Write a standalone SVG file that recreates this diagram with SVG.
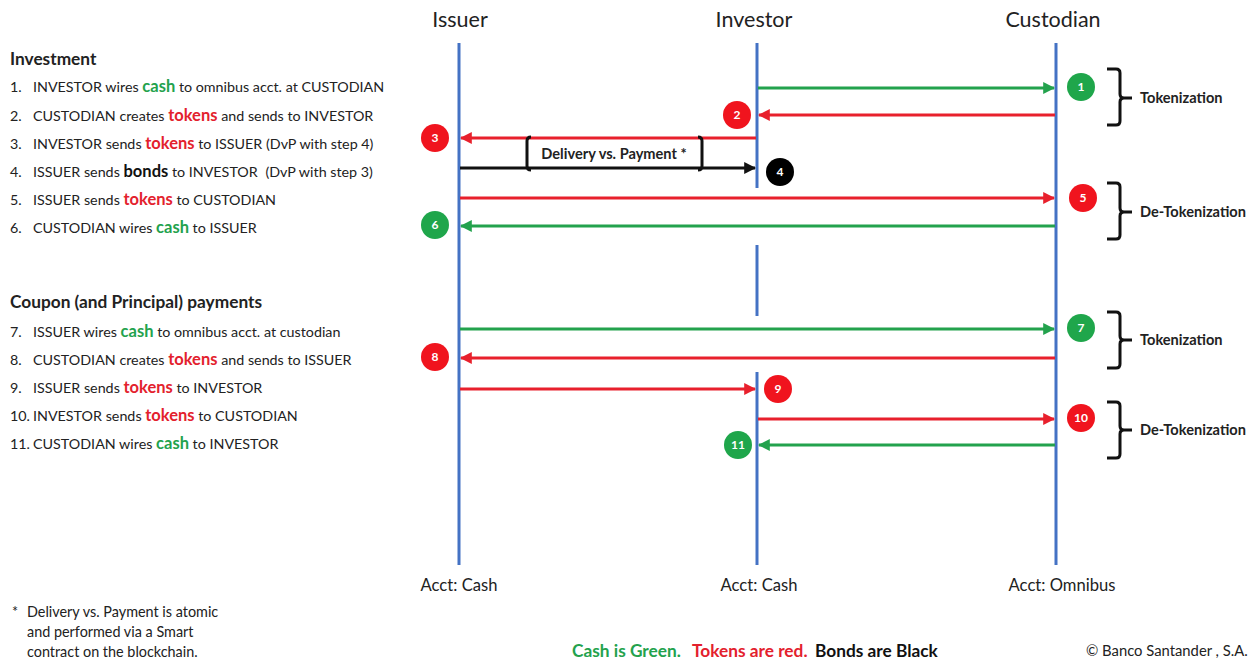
<svg xmlns="http://www.w3.org/2000/svg" width="1256" height="662" viewBox="0 0 1256 662">
<defs>
<style>
text{font-family:Lato,"Liberation Sans",sans-serif;fill:#222}
.hd{font-size:21.5px;text-anchor:middle}
.ti{font-size:17.3px;font-weight:bold}
.it{font-size:14.3px}
.g{fill:#23A24D;font-weight:bold;font-size:16.5px}
.r{fill:#E3212D;font-weight:bold;font-size:16.5px}
.k{fill:#111;font-weight:bold;font-size:16.5px}
.life{stroke:#4472C4;stroke-width:3;fill:none}
.ag{stroke:#23A24D;stroke-width:3;fill:none}
.ar{stroke:#E8202C;stroke-width:3;fill:none}
.ak{stroke:#111;stroke-width:3;fill:none}
.cg{fill:#1FA64B}
.cr{fill:#F0141E}
.ck{fill:#000}
.bn{font-size:12px;font-weight:bold;fill:#fff;text-anchor:middle}
.br{stroke:#111;stroke-width:3;fill:none;stroke-linejoin:round}
.bl{font-size:14.6px;font-weight:bold;fill:#222}
.ac{font-size:16.6px;text-anchor:middle}
.fn{font-size:14.4px}
.key{font-size:17.3px;font-weight:bold}
</style>
<marker id="mg" viewBox="0 0 10 10" refX="9" refY="5" markerWidth="4" markerHeight="4" orient="auto"><path d="M0,0L10,5L0,10z" fill="#23A24D"/></marker>
<marker id="mr" viewBox="0 0 10 10" refX="9" refY="5" markerWidth="4" markerHeight="4" orient="auto"><path d="M0,0L10,5L0,10z" fill="#E8202C"/></marker>
<marker id="mk" viewBox="0 0 10 10" refX="9" refY="5" markerWidth="4" markerHeight="4" orient="auto"><path d="M0,0L10,5L0,10z" fill="#111"/></marker>
</defs>
<rect width="1256" height="662" fill="#fff"/>

<g id="legend-investment">
<text class="ti" x="10" y="65">Investment</text>
<text class="it" x="10" y="92">1.<tspan x="33">INVESTOR wires </tspan><tspan class="g">cash</tspan> to omnibus acct. at CUSTODIAN</text>
<text class="it" x="10" y="121">2.<tspan x="33">CUSTODIAN creates </tspan><tspan class="r">tokens</tspan> and sends to INVESTOR</text>
<text class="it" x="10" y="149">3.<tspan x="33">INVESTOR sends </tspan><tspan class="r">tokens</tspan> to ISSUER (DvP with step 4)</text>
<text class="it" x="10" y="177">4.<tspan x="33">ISSUER sends </tspan><tspan class="k">bonds</tspan> to INVESTOR <tspan dx="4">(DvP with step 3)</tspan></text>
<text class="it" x="10" y="205">5.<tspan x="33">ISSUER sends </tspan><tspan class="r">tokens</tspan> to CUSTODIAN</text>
<text class="it" x="10" y="233">6.<tspan x="33">CUSTODIAN wires </tspan><tspan class="g">cash</tspan> to ISSUER</text>
</g>

<g id="legend-coupon">
<text class="ti" x="10" y="308">Coupon (and Principal) payments</text>
<text class="it" x="10" y="337">7.<tspan x="33">ISSUER wires </tspan><tspan class="g">cash</tspan> to omnibus acct. at custodian</text>
<text class="it" x="10" y="365">8.<tspan x="33">CUSTODIAN creates </tspan><tspan class="r">tokens</tspan> and sends to ISSUER</text>
<text class="it" x="10" y="393">9.<tspan x="33">ISSUER sends </tspan><tspan class="r">tokens</tspan> to INVESTOR</text>
<text class="it" x="10" y="421">10.<tspan x="33">INVESTOR sends </tspan><tspan class="r">tokens</tspan> to CUSTODIAN</text>
<text class="it" x="10" y="449">11.<tspan x="33">CUSTODIAN wires </tspan><tspan class="g">cash</tspan> to INVESTOR</text>
</g>

<g id="issuer">
<text class="hd" x="460" y="27">Issuer</text>
<line class="life" x1="459" y1="43" x2="459" y2="565"/>
<text class="ac" x="459" y="591">Acct: Cash</text>
</g>
<g id="investor">
<text class="hd" x="754" y="27">Investor</text>
<line class="life" x1="757" y1="43" x2="757" y2="188"/>
<line class="life" x1="757" y1="245" x2="757" y2="316"/>
<line class="life" x1="757" y1="372" x2="757" y2="565"/>
<text class="ac" x="759" y="591">Acct: Cash</text>
</g>
<g id="custodian">
<text class="hd" x="1053" y="27">Custodian</text>
<line class="life" x1="1056" y1="43" x2="1056" y2="565"/>
<text class="ac" x="1062" y="591">Acct: Omnibus</text>
</g>

<g id="connectors">
<line class="ag" x1="758" y1="88" x2="1054" y2="88" marker-end="url(#mg)"/>
<line class="ar" x1="1055" y1="115" x2="759" y2="115" marker-end="url(#mr)"/>
<line class="ar" x1="756" y1="138" x2="461" y2="138" marker-end="url(#mr)"/>
<line class="ak" x1="460" y1="168" x2="755" y2="168" marker-end="url(#mk)"/>
<line class="ar" x1="460" y1="198" x2="1054" y2="198" marker-end="url(#mr)"/>
<line class="ag" x1="1055" y1="226" x2="461" y2="226" marker-end="url(#mg)"/>
<line class="ag" x1="460" y1="329" x2="1054" y2="329" marker-end="url(#mg)"/>
<line class="ar" x1="1055" y1="358" x2="461" y2="358" marker-end="url(#mr)"/>
<line class="ar" x1="460" y1="389" x2="755" y2="389" marker-end="url(#mr)"/>
<line class="ar" x1="758" y1="419" x2="1054" y2="419" marker-end="url(#mr)"/>
<line class="ag" x1="1055" y1="445" x2="759" y2="445" marker-end="url(#mg)"/>
</g>

<g id="step1"><circle class="cg" cx="1081" cy="87" r="14"/><text class="bn" x="1081" y="91">1</text></g>
<g id="step2"><circle class="cr" cx="737" cy="115" r="14"/><text class="bn" x="737" y="119">2</text></g>
<g id="step3"><circle class="cr" cx="435" cy="138" r="14"/><text class="bn" x="435" y="142">3</text></g>
<g id="step4"><circle class="ck" cx="780" cy="172" r="14"/><text class="bn" x="780" y="176">4</text></g>
<g id="step5"><circle class="cr" cx="1083" cy="198" r="14"/><text class="bn" x="1083" y="202">5</text></g>
<g id="step6"><circle class="cg" cx="435" cy="225" r="14"/><text class="bn" x="435" y="229">6</text></g>
<g id="step7"><circle class="cg" cx="1081" cy="328" r="14"/><text class="bn" x="1081" y="332">7</text></g>
<g id="step8"><circle class="cr" cx="435" cy="357" r="14"/><text class="bn" x="435" y="361">8</text></g>
<g id="step9"><circle class="cr" cx="778" cy="389" r="14"/><text class="bn" x="778" y="393">9</text></g>
<g id="step10"><circle class="cr" cx="1081" cy="418" r="14"/><text class="bn" x="1081" y="422">10</text></g>
<g id="step11"><circle class="cg" cx="738" cy="445" r="14"/><text class="bn" x="738" y="449">11</text></g>

<g id="dvp">
<path class="br" d="M531,137 Q527,137 527,141 L527,166 Q527,170 531,170"/>
<path class="br" d="M698,137 Q702,137 702,141 L702,166 Q702,170 698,170"/>
<text class="bl" x="614" y="159" text-anchor="middle">Delivery vs. Payment *</text>
</g>

<g id="tokenization1">
<path class="br" d="M1107,69 L1116,69 Q1120,69 1120,73 L1120,94 Q1120,98 1124,98 L1132,98 M1124,98 Q1120,98 1120,102 L1120,121 Q1120,125 1116,125 L1107,125"/>
<text class="bl" x="1140" y="103">Tokenization</text>
</g>
<g id="detokenization1">
<path class="br" d="M1107,183 L1116,183 Q1120,183 1120,187 L1120,208 Q1120,212 1124,212 L1132,212 M1124,212 Q1120,212 1120,216 L1120,235 Q1120,239 1116,239 L1107,239"/>
<text class="bl" x="1140" y="217">De-Tokenization</text>
</g>
<g id="tokenization2">
<path class="br" d="M1107,312 L1116,312 Q1120,312 1120,316 L1120,336 Q1120,340 1124,340 L1132,340 M1124,340 Q1120,340 1120,344 L1120,364 Q1120,368 1116,368 L1107,368"/>
<text class="bl" x="1140" y="345">Tokenization</text>
</g>
<g id="detokenization2">
<path class="br" d="M1107,402 L1116,402 Q1120,402 1120,406 L1120,426 Q1120,430 1124,430 L1132,430 M1124,430 Q1120,430 1120,434 L1120,454 Q1120,458 1116,458 L1107,458"/>
<text class="bl" x="1140" y="435">De-Tokenization</text>
</g>

<g id="footnote">
<text class="fn" x="12" y="617">*<tspan x="27">Delivery vs. Payment is atomic</tspan></text>
<text class="fn" x="27" y="637">and performed via a Smart</text>
<text class="fn" x="27" y="657">contract on the blockchain.</text>
</g>
<g id="key">
<text class="key" x="572" y="657" fill="#23A24D" style="fill:#23A24D">Cash is Green.</text>
<text class="key" x="692" y="657" style="fill:#E3212D">Tokens are red.</text>
<text class="key" x="815" y="657" style="fill:#111">Bonds are Black</text>
<text x="1086" y="656" style="font-size:14.8px">© Banco Santander , S.A.</text>
</g>
</svg>
